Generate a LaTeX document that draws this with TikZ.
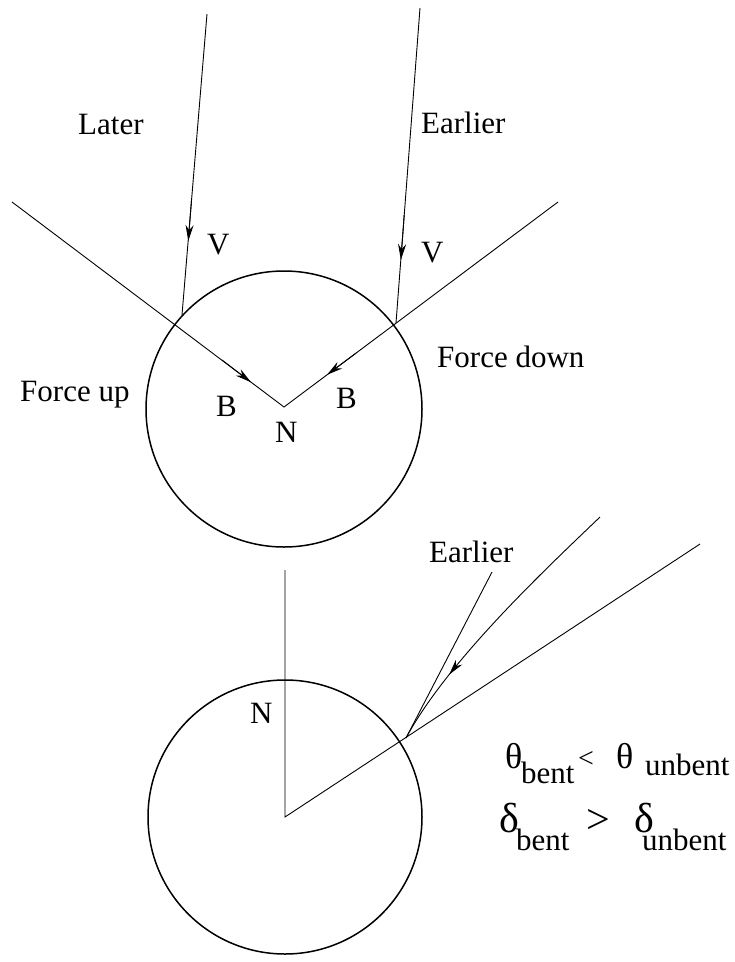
\documentclass[tikz,border=0pt]{standalone}
\usepackage{fontspec}
\setmainfont{Liberation Serif}
\usetikzlibrary{arrows.meta,decorations.markings}
\begin{document}
\begin{tikzpicture}[x=1pt,y=-1pt,
  thinline/.style={line width=0.9pt},
  ball/.style={line width=1.5pt},
  lbl/.style={anchor=base west, inner sep=0pt, font=\fontsize{31}{34}\selectfont},
  thetalbl/.style={anchor=base west, inner sep=0pt, font=\fontsize{36}{40}\selectfont},
  biglbl/.style={anchor=base west, inner sep=0pt, font=\fontsize{42}{46}\selectfont},
  smalllbl/.style={anchor=base west, inner sep=0pt, font=\fontsize{28}{30}\selectfont},
  tipline/.style={-{Stealth[length=16pt,width=8pt]}, line width=0.9pt}]
\useasboundingbox (0,0) rectangle (735,962);
% ---------- top figure ----------
\coordinate (c1) at (284,409);
\draw[ball] (c1) circle[radius=138];
\coordinate (laterTop) at (207,14);
\coordinate (laterHit) at (182,315);
\coordinate (earlierTop) at (420,8);
\coordinate (earlierHit) at (396,323);
\coordinate (bLeft) at (12,202);
\coordinate (bRight) at (558,202);
\coordinate (nv) at (284,407);
\draw[thinline] (laterTop) -- (laterHit);
\draw[thinline] (earlierTop) -- (earlierHit);
\draw[thinline] (bLeft) -- (nv) -- (bRight);
% arrows
\coordinate (la1) at (191.5,200);
\coordinate (la2) at (188.3,241);
\draw[tipline] (la1) -- (la2);
\coordinate (ea1) at (404.2,215);
\coordinate (ea2) at (400.9,260);
\draw[tipline] (ea1) -- (ea2);
\coordinate (ba1) at (222,360);
\coordinate (ba2) at (251,382.2);
\draw[tipline] (ba1) -- (ba2);
\coordinate (bb1) at (356,353.1);
\coordinate (bb2) at (327,374.8);
\draw[tipline] (bb1) -- (bb2);
% labels
\node[lbl] (tLater) at (78,134) {Later};
\node[lbl] (tEarlier) at (421,133) {Earlier};
\node[lbl] (tV1) at (207,254) {V};
\node[lbl] (tV2) at (421,262) {V};
\node[lbl] (tFup) at (20,401) {Force up};
\node[lbl] (tFdown) at (437,367) {Force down};
\node[lbl] (tB1) at (216,416) {B};
\node[lbl] (tB2) at (336,408) {B};
\node[lbl] (tN1) at (275,442) {N};
% ---------- bottom figure ----------
\coordinate (c2) at (285,817);
\draw[ball] (c2) circle[radius=137];
\coordinate (nTop) at (285,570);
\coordinate (rayEnd) at (700,544);
\coordinate (hit) at (406,738);
\coordinate (earlyEnd) at (492,572);
\coordinate (curveTop) at (600,517);
\draw[thinline] (nTop) -- (c2) -- (rayEnd);
\draw[thinline] (hit) -- (earlyEnd);
\draw[thinline, postaction={decorate},
  decoration={markings, mark=at position 0.74 with {\arrow{Stealth[length=16pt,width=8pt]}}}]
  (curveTop) .. controls (550,565) and (448,660) .. (hit);
\node[lbl] (tN2) at (250,723) {N};
\node[lbl] (tEarlier2) at (429,562) {Earlier};
% formulas
\node[thetalbl] (th1) at (505,768) {θ};
\node[lbl] (th1s) at (521,783) {bent};
\node[smalllbl] (lt) at (578,767) {<};
\node[thetalbl] (th2) at (616,768) {θ};
\node[lbl] (th2s) at (645,775) {unbent};
\node[biglbl] (d1) at (499,832) {δ};
\node[lbl] (d1s) at (516,850) {bent};
\node[biglbl] (gt) at (586,833) {>};
\node[biglbl] (d2) at (634,832) {δ};
\node[lbl] (d2s) at (642,850) {unbent};
\end{tikzpicture}
\end{document}
